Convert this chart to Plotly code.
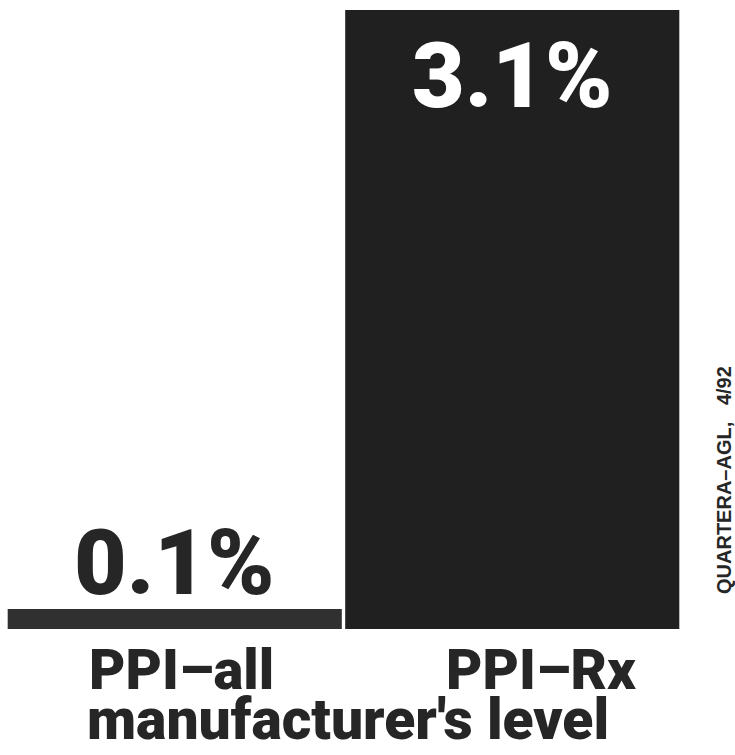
import plotly.graph_objects as go

# Price index changes at the manufacturer's level
categories = ["PPI–all", "PPI–Rx"]
values = [0.1, 3.1]
value_labels = ["0.1%", "3.1%"]
bar_colors = ["#303030", "#202020"]
subtitle = "manufacturer's level"
credit = "QUARTERA–AGL,&nbsp;&nbsp;&nbsp;4/92"

HEAVY = "Roboto"
INK = "#262626"
W, H = 735, 755
ML, MR, MT, MB = 6, 54, 0, 126
PW, PH = W - ML - MR, H - MT - MB


def px_to_paper(px, py):
    """Pixel position on the page -> paper fractions of the plot area."""
    return (px - ML) / PW, (H - MB - py) / PH


fig = go.Figure(
    go.Bar(
        x=categories,
        y=values,
        marker=dict(color=bar_colors, line=dict(width=0)),
        hoverinfo="skip",
    )
)

annotations = []
# value labels: above the short bar, inside the top of the tall bar
label_style = [
    dict(yanchor="bottom", yshift=-9, color=INK),
    dict(yanchor="top", yshift=-11, color="#ffffff"),
]
for cat, val, txt, st in zip(categories, values, value_labels, label_style):
    annotations.append(dict(
        x=cat, y=val, xref="x", yref="y", text=txt, showarrow=False,
        yanchor=st["yanchor"], yshift=st["yshift"],
        font=dict(family=HEAVY, size=91, color=st["color"], weight=900),
    ))

# category names under the bars
name_shift = [7, 29]
for cat, dx in zip(categories, name_shift):
    annotations.append(dict(
        x=cat, y=0, xref="x", yref="y", text=cat, showarrow=False,
        yanchor="top", yshift=-6, xshift=dx,
        font=dict(family=HEAVY, size=56, color=INK, weight=900),
    ))

sx, sy = px_to_paper(348, 755)
annotations.append(dict(
    x=sx, y=sy, xref="paper", yref="paper", text=subtitle, showarrow=False,
    xanchor="center", yanchor="bottom",
    font=dict(family=HEAVY, size=57, color=INK, weight=900),
))

cx, cy = px_to_paper(724, 480)
annotations.append(dict(
    x=cx, y=cy, xref="paper", yref="paper", text=credit, showarrow=False,
    textangle=-90, xanchor="center", yanchor="middle",
    font=dict(family="Liberation Sans", size=20, color=INK, weight=700),
))

fig.update_layout(
    width=W, height=H,
    margin=dict(l=ML, r=MR, t=MT, b=MB, pad=0),
    paper_bgcolor="#ffffff", plot_bgcolor="#ffffff",
    bargap=0.01,
    showlegend=False,
    xaxis=dict(range=[-0.5, 1.5], showticklabels=False, showgrid=False,
               zeroline=False, showline=False, ticks=""),
    yaxis=dict(range=[0, 3.15], showticklabels=False, showgrid=False,
               zeroline=False, showline=False, ticks=""),
    annotations=annotations,
)

fig.write_html("out.html")
